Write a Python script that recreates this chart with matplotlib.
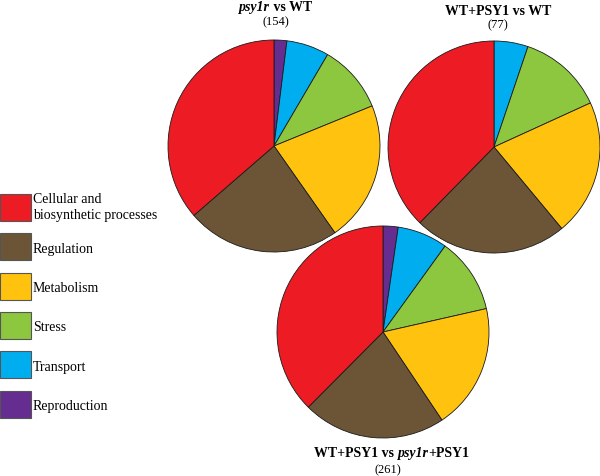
import matplotlib
matplotlib.use("Agg")
import matplotlib.pyplot as plt
from matplotlib.patches import Rectangle, Circle

plt.rcParams['font.family'] = ['Liberation Serif', 'DejaVu Serif']

categories = ["Cellular and\nbiosynthetic processes", "Regulation", "Metabolism",
              "Stress", "Transport", "Reproduction"]
colors = ["#ED1C24", "#6B5536", "#FFC20E", "#8DC63F", "#00AEEF", "#662D91"]

# values in category order (Cellular, Regulation, Metabolism, Stress, Transport, Reproduction)
pie1_values = [56, 36, 33, 16, 10, 3]     # psy1r vs WT (154)
pie2_values = [29, 18, 16, 10, 4, 0]      # WT+PSY1 vs WT (77)
pie3_values = [98, 57, 50, 30, 20, 6]     # WT+PSY1 vs psy1r+PSY1 (261)

titles = [
    [("psy1r", "italic"), (" vs WT", "normal")],
    [("WT+PSY1 vs WT", "normal")],
    [("WT+PSY1 vs ", "normal"), ("psy1r", "italic"), ("+PSY1", "normal")],
]
counts = ["(154)", "(77)", "(261)"]

W, H = 600, 477
fig = plt.figure(figsize=(W / 100, H / 100), dpi=100)
renderer = fig.canvas.get_renderer()

R = 106
# (values, centre x, centre y, title (x, baseline), count (x, baseline))
pies = [
    (pie1_values, 274, 147, (275.5, 11), (275.5, 25)),
    (pie2_values, 494, 148, (498, 15), (498, 28.5)),
    (pie3_values, 383, 333, (392, 457), (388, 473)),
]


def fx(x):
    return x / W


def fy(y):
    return 1 - y / H


def draw_pie(values, cx, cy, front=False):
    ax = fig.add_axes([fx(cx - R), fy(cy + R), 2 * R / W, 2 * R / H])
    vals = values[::-1]
    cols = colors[::-1]
    keep = [(v, c) for v, c in zip(vals, cols) if v > 0]
    ax.pie([v for v, _ in keep], colors=[c for _, c in keep], startangle=90,
           counterclock=False, radius=1,
           wedgeprops=dict(edgecolor="#1a1a1a", linewidth=0.6))
    if front:
        ax.add_patch(Circle((0, 0), 1.03, facecolor="white", edgecolor="none",
                            zorder=0, clip_on=False))
    ax.set_xlim(-1, 1)
    ax.set_ylim(-1, 1)
    ax.axis("off")
    return ax


def draw_segments(segs, xc, yb, size, weight):
    texts = []
    for s, style in segs:
        t = fig.text(0, fy(yb), s, fontsize=size, fontweight=weight, fontstyle=style,
                     ha="left", va="baseline")
        texts.append(t)
    widths = [t.get_window_extent(renderer).width for t in texts]
    total = sum(widths)
    x = xc - total / 2
    for t, w in zip(texts, widths):
        t.set_x(fx(x))
        x += w


for i, (vals, cx, cy, tpos, cpos) in enumerate(pies):
    draw_pie(vals, cx, cy, front=(i == 2))
    draw_segments(titles[i], tpos[0], tpos[1], 10, "bold")
    fig.text(fx(cpos[0]), fy(cpos[1]), counts[i], fontsize=9, ha="center", va="baseline")

# legend
box_w, box_h = 31, 27
top0 = 195
step = 39.3
for i, (cat, col) in enumerate(zip(categories, colors)):
    top = top0 + i * step
    fig.patches.append(Rectangle((fx(0), fy(top + box_h)), box_w / W, box_h / H,
                                 transform=fig.transFigure, facecolor=col,
                                 edgecolor="#555555", linewidth=0.8))
    lines = cat.split("\n")
    if len(lines) == 1:
        baselines = [top + 18.5]
    else:
        baselines = [top + 8.3, top + 24.3]
    for line, yb in zip(lines, baselines):
        fig.text(fx(33), fy(yb), line, fontsize=10, ha="left", va="baseline")

fig.savefig("out.png", dpi=100)
